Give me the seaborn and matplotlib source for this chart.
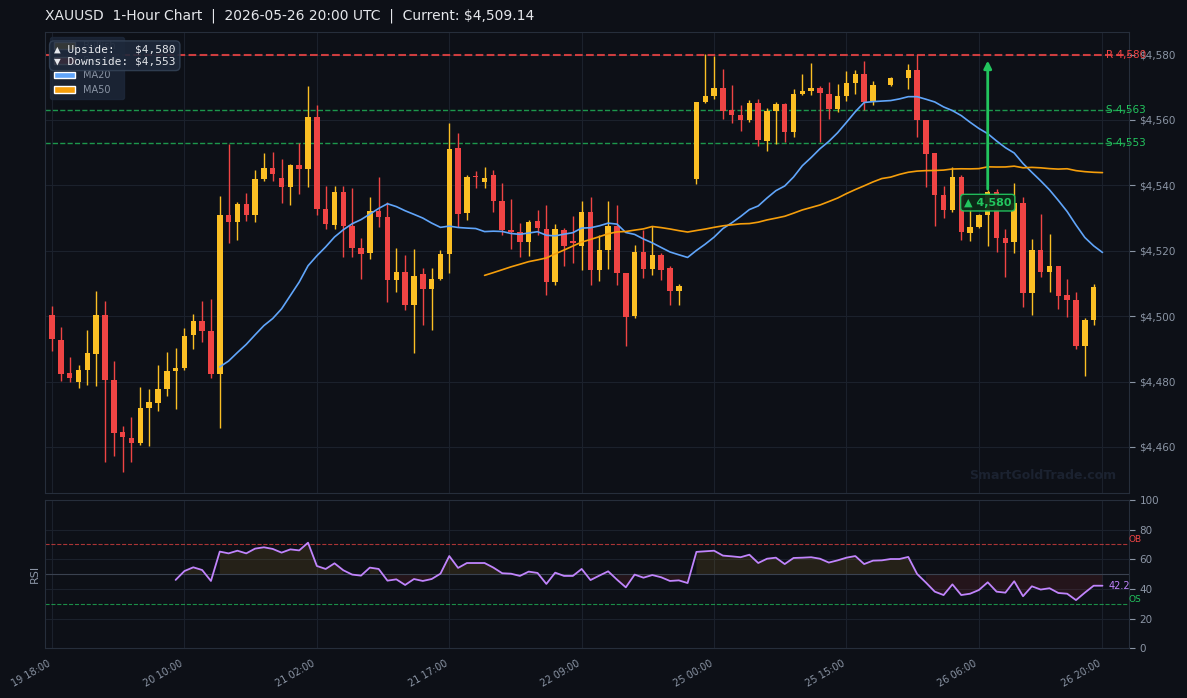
import numpy as np
import pandas as pd
import matplotlib
matplotlib.use("Agg")
import matplotlib.pyplot as plt
import matplotlib.transforms as mtransforms
from matplotlib.patches import Patch
import seaborn as sns

# hourly XAUUSD candles (bar index 0..119)
OPEN = [4500.3, 4492.6, 4482.6, 4479.8, 4483.6, 4488.5, 4500.3, 4480.4, 4464.5, 4462.6,
        4461.2, 4471.9, 4473.5, 4477.8, 4483.3, 4484.2, 4494.3, 4498.5, 4495.4, 4482.3,
        4530.9, 4528.9, 4534.3, 4530.9, 4541.9, 4545.3, 4542.2, 4539.6, 4546.2, 4545.1,
        4560.9, 4532.8, 4528.0, 4538.0, 4527.6, 4520.8, 4519.3, 4532.2, 4530.3, 4511.0,
        4513.5, 4503.4, 4512.9, 4508.3, 4511.3, 4519.0, 4551.4, 4531.5, 4542.9, 4541.0,
        4543.2, 4535.2, 4526.3, 4525.7, 4522.6, 4529.1, 4526.6, 4510.4, 4526.3, 4523.0,
        4521.4, 4531.8, 4514.1, 4520.2, 4527.6, 4513.2, 4500.0, 4519.6, 4514.4, 4518.7,
        4514.7, 4507.7, 4509.2, 4541.9, 4565.5, 4567.3, 4569.8, 4563.1, 4561.6, 4560.0,
        4565.2, 4553.6, 4562.8, 4564.9, 4556.3, 4568.0, 4568.9, 4569.8, 4568.0, 4563.4,
        4567.3, 4571.3, 4574.1, 4565.8, 4570.7, 4570.7, 4572.9, 4572.9, 4575.3, 4560.0,
        4549.9, 4537.1, 4532.5, 4542.5, 4525.4, 4527.2, 4530.9, 4538.0, 4523.9, 4522.6,
        4534.6, 4507.0, 4520.2, 4513.5, 4515.3, 4506.4, 4504.9, 4490.8, 4498.8, 4509.14]
HIGH = [4503.1, 4496.6, 4487.4, 4485.0, 4495.7, 4507.7, 4504.6, 4486.2, 4466.3, 4469.0,
        4478.3, 4477.6, 4485.0, 4489.0, 4490.2, 4496.3, 4500.6, 4504.6, 4505.2, 4536.7,
        4552.7, 4534.9, 4537.7, 4544.7, 4549.9, 4550.2, 4548.1, 4546.5, 4553.0, 4570.4,
        4564.6, 4539.8, 4539.8, 4539.8, 4539.2, 4523.9, 4536.4, 4542.6, 4534.9, 4520.8,
        4518.7, 4520.5, 4514.7, 4514.7, 4520.2, 4559.1, 4556.0, 4543.1, 4544.4, 4545.6,
        4544.7, 4540.7, 4535.8, 4528.5, 4529.4, 4532.4, 4534.0, 4528.2, 4526.9, 4530.6,
        4535.2, 4536.4, 4524.8, 4535.2, 4534.0, 4513.2, 4521.7, 4526.3, 4527.6, 4519.3,
        4515.3, 4509.8, 4509.2, 4565.6, 4580.2, 4579.6, 4575.6, 4570.7, 4564.6, 4566.1,
        4566.4, 4563.7, 4565.5, 4565.2, 4569.5, 4574.1, 4577.5, 4570.4, 4571.6, 4571.0,
        4575.0, 4575.3, 4578.1, 4571.9, 4570.7, 4573.2, 4572.9, 4577.1, 4580.2, 4560.0,
        4549.9, 4539.8, 4545.6, 4543.2, 4534.9, 4531.2, 4538.5, 4538.8, 4526.6, 4540.7,
        4536.4, 4523.6, 4531.2, 4525.1, 4515.3, 4511.3, 4507.3, 4499.4, 4509.8, 4509.14]
LOW = [4489.4, 4480.2, 4479.9, 4477.9, 4479.0, 4478.7, 4455.4, 4457.2, 4452.4, 4455.4,
       4460.5, 4460.3, 4471.0, 4475.6, 4471.6, 4483.6, 4490.0, 4492.1, 4481.1, 4465.8,
       4522.5, 4523.3, 4529.2, 4528.8, 4541.4, 4541.3, 4534.6, 4534.0, 4537.2, 4539.6,
       4530.9, 4526.6, 4526.6, 4518.1, 4518.1, 4511.3, 4517.4, 4527.2, 4504.3, 4507.3,
       4501.8, 4488.7, 4497.2, 4495.7, 4511.0, 4513.2, 4527.3, 4529.4, 4539.2, 4539.2,
       4531.8, 4524.8, 4520.5, 4518.1, 4518.4, 4524.8, 4506.4, 4509.5, 4515.3, 4516.2,
       4514.1, 4509.5, 4510.7, 4514.4, 4509.5, 4490.8, 4499.4, 4511.6, 4512.5, 4511.0,
       4503.4, 4503.4, 4509.2, 4540.4, 4565.2, 4566.4, 4560.3, 4559.1, 4556.6, 4559.4,
       4552.1, 4550.5, 4552.7, 4553.3, 4554.8, 4567.7, 4567.7, 4553.3, 4560.3, 4562.5,
       4565.8, 4568.0, 4563.1, 4564.6, 4570.7, 4570.4, 4572.9, 4569.5, 4554.8, 4539.5,
       4527.6, 4530.0, 4531.8, 4523.3, 4523.0, 4526.9, 4521.4, 4519.6, 4511.9, 4519.3,
       4502.8, 4500.3, 4511.9, 4507.3, 4502.2, 4499.7, 4489.9, 4481.6, 4497.3, 4509.14]
CLOSE = [4493.1, 4482.3, 4481.1, 4483.5, 4488.7, 4500.3, 4480.5, 4464.3, 4463.0, 4461.2,
         4471.8, 4473.6, 4477.6, 4483.2, 4484.1, 4493.9, 4498.5, 4495.5, 4482.3, 4530.9,
         4528.9, 4534.3, 4530.9, 4541.9, 4545.3, 4543.5, 4539.6, 4546.2, 4545.1, 4560.9,
         4532.8, 4528.1, 4538.0, 4527.6, 4520.8, 4519.0, 4532.2, 4530.3, 4511.0, 4513.5,
         4503.4, 4512.3, 4508.3, 4511.3, 4519.0, 4551.1, 4531.2, 4542.5, 4542.4, 4542.2,
         4535.2, 4526.3, 4525.7, 4522.6, 4528.8, 4527.0, 4510.4, 4526.6, 4521.4, 4522.5,
         4531.8, 4514.1, 4520.2, 4527.6, 4513.2, 4499.7, 4519.6, 4514.4, 4518.7, 4514.1,
         4507.7, 4509.2, 4509.2, 4565.5, 4567.3, 4569.8, 4562.8, 4561.6, 4560.0, 4565.2,
         4553.9, 4562.8, 4564.9, 4556.3, 4568.0, 4568.9, 4569.8, 4568.3, 4563.4, 4567.3,
         4571.3, 4574.1, 4565.5, 4570.7, 4570.7, 4572.9, 4572.9, 4575.3, 4560.0, 4549.6,
         4537.1, 4532.5, 4542.5, 4525.7, 4527.2, 4530.9, 4538.0, 4523.9, 4522.3, 4534.6,
         4507.0, 4520.2, 4513.5, 4515.3, 4506.1, 4504.9, 4490.8, 4498.8, 4508.9, 4509.14]

# RSI(14), first 14 bars undefined
RSI = [np.nan] * 14 + [
    46.1, 52.1, 54.6, 52.8, 45.4, 65.2, 64.0, 65.8, 64.0, 67.2,
    68.1, 67.0, 64.5, 66.7, 66.0, 71.2, 55.5, 53.5, 57.3, 52.6,
    49.7, 49.0, 54.4, 53.5, 45.6, 46.5, 42.7, 46.7, 45.4, 46.7,
    50.3, 62.2, 54.2, 57.5, 57.5, 57.5, 54.4, 50.6, 50.3, 48.8,
    51.7, 50.8, 43.4, 51.0, 48.8, 48.8, 53.5, 46.0, 49.0, 51.9,
    46.3, 41.1, 49.7, 47.6, 49.4, 47.9, 45.4, 45.8, 44.0, 65.0,
    65.4, 65.8, 62.5, 62.0, 61.4, 63.1, 57.5, 60.4, 61.1, 56.8,
    60.9, 61.1, 61.4, 60.4, 57.8, 59.3, 61.1, 62.2, 56.8, 59.1,
    59.3, 60.2, 60.2, 61.6, 50.1, 44.3, 38.2, 35.9, 43.1, 35.9,
    36.8, 39.3, 44.5, 38.2, 37.5, 45.2, 35.1, 41.8, 39.6, 40.5,
    37.3, 36.8, 32.5, 37.5, 42.2, 42.2]

TICK_POS = [0, 15, 30, 45, 60, 75, 90, 105, 119]
TICK_LABELS = ["19 18:00", "20 10:00", "21 02:00", "21 17:00", "22 09:00",
               "25 00:00", "25 15:00", "26 06:00", "26 20:00"]
PRICE_TICKS = [4460, 4480, 4500, 4520, 4540, 4560, 4580]
RESISTANCE = 4580
SUPPORTS = [4563, 4553]
TARGET_BAR = 106
TARGET_FROM = 4538.0
TARGET_PRICE = 4580

BG = "#0d1017"
GRID = "#1b212c"
SPINE = "#262e3b"
TXT = "#8b95a5"
BULL = "#fbbf24"
BEAR = "#ef4444"
GREEN = "#22c55e"

df = pd.DataFrame({"open": OPEN, "high": HIGH, "low": LOW, "close": CLOSE, "rsi": RSI})
df["bar"] = np.arange(len(df))
df["ma20"] = df["close"].rolling(20).mean()
df["ma50"] = df["close"].rolling(50).mean()

sns.set_style("dark", {"axes.facecolor": BG, "figure.facecolor": BG})
plt.rcParams["font.family"] = ["DejaVu Sans"]

fig = plt.figure(figsize=(11.87, 6.98), dpi=100)
ax = fig.add_axes([0.0379, 0.2937, 0.9132, 0.6605])
ax2 = fig.add_axes([0.0379, 0.0712, 0.9132, 0.2125])

for a in (ax, ax2):
    a.set_facecolor(BG)
    for s in a.spines.values():
        s.set_color(SPINE)
        s.set_linewidth(0.8)
    a.grid(True, color=GRID, lw=0.8)
    a.set_axisbelow(True)
    a.set_xlim(-0.8, 122)
    a.set_xticks(TICK_POS)
    a.tick_params(colors=TXT, labelsize=7.5, length=4, width=0.8)

# candles
up = df["close"] >= df["open"]
cols = np.where(up, BULL, BEAR)
ax.vlines(df["bar"], df["low"], df["high"], colors=cols, lw=1, zorder=2)
ax.bar(df["bar"], (df["close"] - df["open"]).abs(), bottom=df[["open", "close"]].min(axis=1),
       width=0.62, color=cols, lw=0, zorder=3)

ma = df.dropna(subset=["ma20"])
sns.lineplot(data=ma, x="bar", y="ma20", ax=ax, color="#60a5fa", lw=1.2, zorder=4)
ma = df.dropna(subset=["ma50"])
sns.lineplot(data=ma, x="bar", y="ma50", ax=ax, color="#f59e0b", lw=1.2, zorder=4)

ax.axhline(RESISTANCE, color=BEAR, ls="--", lw=1.5, alpha=0.85, zorder=1)
ax.text(119.4, RESISTANCE, f"R {RESISTANCE:,}", color=BEAR, fontsize=7.5, va="center", ha="left")
for s in SUPPORTS:
    ax.axhline(s, color=GREEN, ls="--", lw=1, alpha=0.75, zorder=1)
    ax.text(119.4, s, f"S {s:,}", color=GREEN, fontsize=7.5, va="center", ha="left")

ax.annotate("", xy=(TARGET_BAR, TARGET_PRICE - 1), xytext=(TARGET_BAR, TARGET_FROM),
            arrowprops=dict(arrowstyle="-|>", color=GREEN, lw=2, mutation_scale=11), zorder=6)
ax.text(TARGET_BAR, TARGET_FROM - 3.3, f"▲ {TARGET_PRICE:,}", color=GREEN, fontsize=8,
        fontweight="bold", ha="center", va="center", zorder=7,
        bbox=dict(boxstyle="round,pad=0.3", fc="#0b2a18", ec=GREEN, lw=1, alpha=0.95))

ax.set_ylim(4445.9, 4586.9)
ax.set_yticks(PRICE_TICKS)
ax.set_yticklabels([f"${v:,}" for v in PRICE_TICKS])
ax.yaxis.tick_right()
ax.set_xticklabels([])
ax.set_xlabel("")
ax.set_ylabel("")

leg = ax.legend(handles=[Patch(fc=BULL, label="Bullish"), Patch(fc=BEAR, label="Bearish"),
                         Patch(fc="#60a5fa", label="MA20"), Patch(fc="#f59e0b", label="MA50")],
                loc="upper left", fontsize=7, facecolor="#1e293b", edgecolor="#1e293b",
                framealpha=0.8, labelcolor=TXT, handlelength=2.2, handleheight=0.7)
leg.set_zorder(8)

ax.text(0.0083, 0.971, f"▲ Upside:   ${RESISTANCE:,}\n▼ Downside: ${SUPPORTS[1]:,}",
        transform=ax.transAxes, family="DejaVu Sans Mono", fontsize=8, color="#e5e7eb",
        va="top", ha="left", linespacing=1.1, zorder=9,
        bbox=dict(boxstyle="round,pad=0.4", fc="#1e293b", ec="#334155", alpha=0.9))

ax.text(0.988, 0.037, "SmartGoldTrade.com", transform=ax.transAxes, ha="right", va="center",
        color="#1b2230", fontsize=9, fontweight="bold", zorder=1)

# RSI panel
r = df.dropna(subset=["rsi"])
ax2.fill_between(r["bar"], r["rsi"], 50, where=r["rsi"] >= 50, color=BULL, alpha=0.1, lw=0)
ax2.fill_between(r["bar"], r["rsi"], 50, where=r["rsi"] < 50, color=BEAR, alpha=0.1, lw=0)
ax2.axhline(70, color=BEAR, ls="--", lw=0.8, alpha=0.7)
ax2.axhline(30, color=GREEN, ls="--", lw=0.8, alpha=0.7)
ax2.axhline(50, color="#3a4250", lw=0.8)
sns.lineplot(data=r, x="bar", y="rsi", ax=ax2, color="#c084fc", lw=1.3, zorder=4)
tr = mtransforms.blended_transform_factory(ax2.transAxes, ax2.transData)
ax2.text(1.0, 70, "OB", transform=tr, color=BEAR, fontsize=6.5, ha="left", va="bottom")
ax2.text(1.0, 30, "OS", transform=tr, color=GREEN, fontsize=6.5, ha="left", va="bottom")
ax2.text(119.7, RSI[-1], f"{RSI[-1]:.1f}", color="#c084fc", fontsize=7, ha="left", va="center")

ax2.set_ylim(0, 100)
ax2.set_yticks([0, 20, 40, 60, 80, 100])
ax2.yaxis.tick_right()
ax2.set_xticklabels(TICK_LABELS, rotation=30, ha="right", fontsize=7)
ax2.set_xlabel("")
ax2.set_ylabel("RSI", color=TXT, fontsize=8)

fig.text(0.038, 0.977, "XAUUSD  1-Hour Chart  |  2026-05-26 20:00 UTC  |  Current: $4,509.14",
         color="#e5e7eb", fontsize=10, ha="left", va="center")

fig.savefig("out.png", dpi=100, facecolor=BG)
